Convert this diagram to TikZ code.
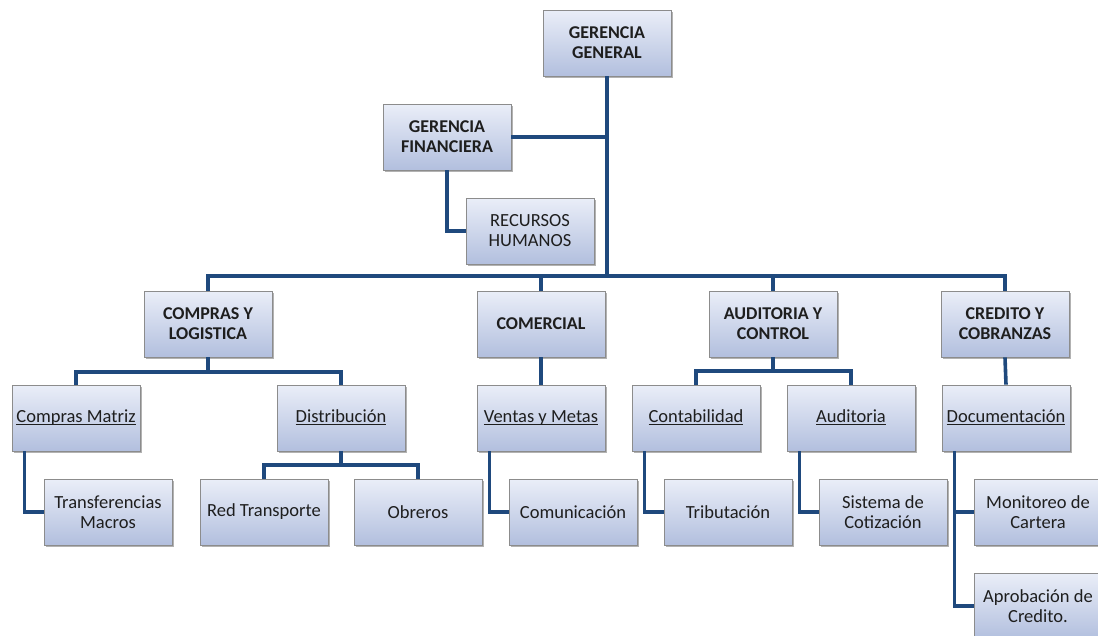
\documentclass[tikz,border=0pt]{standalone}
\usepackage{fontspec}
\setmainfont{Carlito}
\usetikzlibrary{shadows}
\definecolor{conncol}{RGB}{31,73,125}
\definecolor{boxtop}{RGB}{234,238,248}
\definecolor{boxbot}{RGB}{178,191,222}
\definecolor{boxline}{RGB}{140,140,140}
\definecolor{txt}{RGB}{30,30,30}
\newcommand\uln[1]{\underline{\smash{#1}}\vphantom{Ay}}
\begin{document}
\begin{tikzpicture}[x=1pt,y=-1pt,
  orgbox/.style={draw=boxline, line width=0.8pt, top color=boxtop, bottom color=boxbot,
    minimum width=128pt, minimum height=66pt, align=center, inner sep=2pt, text=txt,
    font=\fontsize{18.5}{20}\selectfont,
    drop shadow={shadow xshift=2pt, shadow yshift=-2pt, opacity=0.3, fill=black}},
  headbox/.style={orgbox, font=\fontsize{18}{20}\selectfont\bfseries},
  conn/.style={draw=conncol, line width=3.6pt}]
\useasboundingbox (0,0) rectangle (1098,635);
\clip (0,0) rectangle (1098,635);
\coordinate (b1) at (607,276);
\coordinate (b2) at (208,372);
\coordinate (b3) at (773,371);
\coordinate (b4) at (341,465);
% nodes
\node[headbox] (gg) at (607,43) {GERENCIA\\GENERAL};
\node[headbox] (gf) at (447,137) {GERENCIA\\FINANCIERA};
\node[orgbox] (rh) at (530,231) {RECURSOS\\HUMANOS};
\node[headbox] (cl) at (208,324) {COMPRAS Y\\LOGISTICA};
\node[headbox] (co) at (541,324) {COMERCIAL};
\node[headbox] (ac) at (773,324) {AUDITORIA Y\\CONTROL};
\node[headbox] (cr) at (1005,324) {CREDITO Y\\COBRANZAS};
\node[orgbox] (cm) at (76,418) {\uln{Compras Matriz}};
\node[orgbox] (di) at (341,418) {\uln{Distribución}};
\node[orgbox] (vm) at (541,418) {\uln{Ventas y Metas}};
\node[orgbox] (ct) at (696,418) {\uln{Contabilidad}};
\node[orgbox] (au) at (851,418) {\uln{Auditoria}};
\node[orgbox] (dc) at (1006,418) {\uln{Documentación}};
\node[orgbox] (tm) at (108,512) {Transferencias\\Macros};
\node[orgbox] (rt) at (264,512) {Red Transporte};
\node[orgbox] (ob) at (418,512) {Obreros};
\node[orgbox] (cu) at (573,512) {Comunicación};
\node[orgbox] (tr) at (728,512) {Tributación};
\node[orgbox] (sc) at (883,512) {Sistema de\\Cotización};
\node[orgbox] (mc) at (1038,512) {Monitoreo de\\Cartera};
\node[orgbox] (ap) at (1038,606) {Aprobación de\\Credito.};
% connectors
\draw[conn] (gg.south) -- (b1);
\draw[conn] (gf.east) -- (gf.east -| b1);
\draw[conn] (gf.south) |- (rh.west);
\draw[conn] (b1) -| (cl.north);
\draw[conn] (b1) -| (co.north);
\draw[conn] (b1) -| (ac.north);
\draw[conn] (b1) -| (cr.north);
\draw[conn] (cl.south) -- (b2);
\draw[conn] (b2) -| (cm.north);
\draw[conn] (b2) -| (di.north);
\draw[conn] (co.south) -- (vm.north);
\draw[conn] (ac.south) -- (b3);
\draw[conn] (b3) -| (ct.north);
\draw[conn] (b3) -| (au.north);
\draw[conn] (cr.south) -- (dc.north);
\draw[conn] (di.south) -- (b4);
\draw[conn] (b4) -| (rt.north);
\draw[conn] (b4) -| (ob.north);
\draw[conn] ([xshift=13pt]cm.south west) |- (tm.west);
\draw[conn] ([xshift=13pt]vm.south west) |- (cu.west);
\draw[conn] ([xshift=13pt]ct.south west) |- (tr.west);
\draw[conn] ([xshift=13pt]au.south west) |- (sc.west);
\draw[conn] ([xshift=13pt]dc.south west) |- (mc.west);
\draw[conn] ([xshift=13pt]dc.south west) |- (ap.west);
\end{tikzpicture}
\end{document}
